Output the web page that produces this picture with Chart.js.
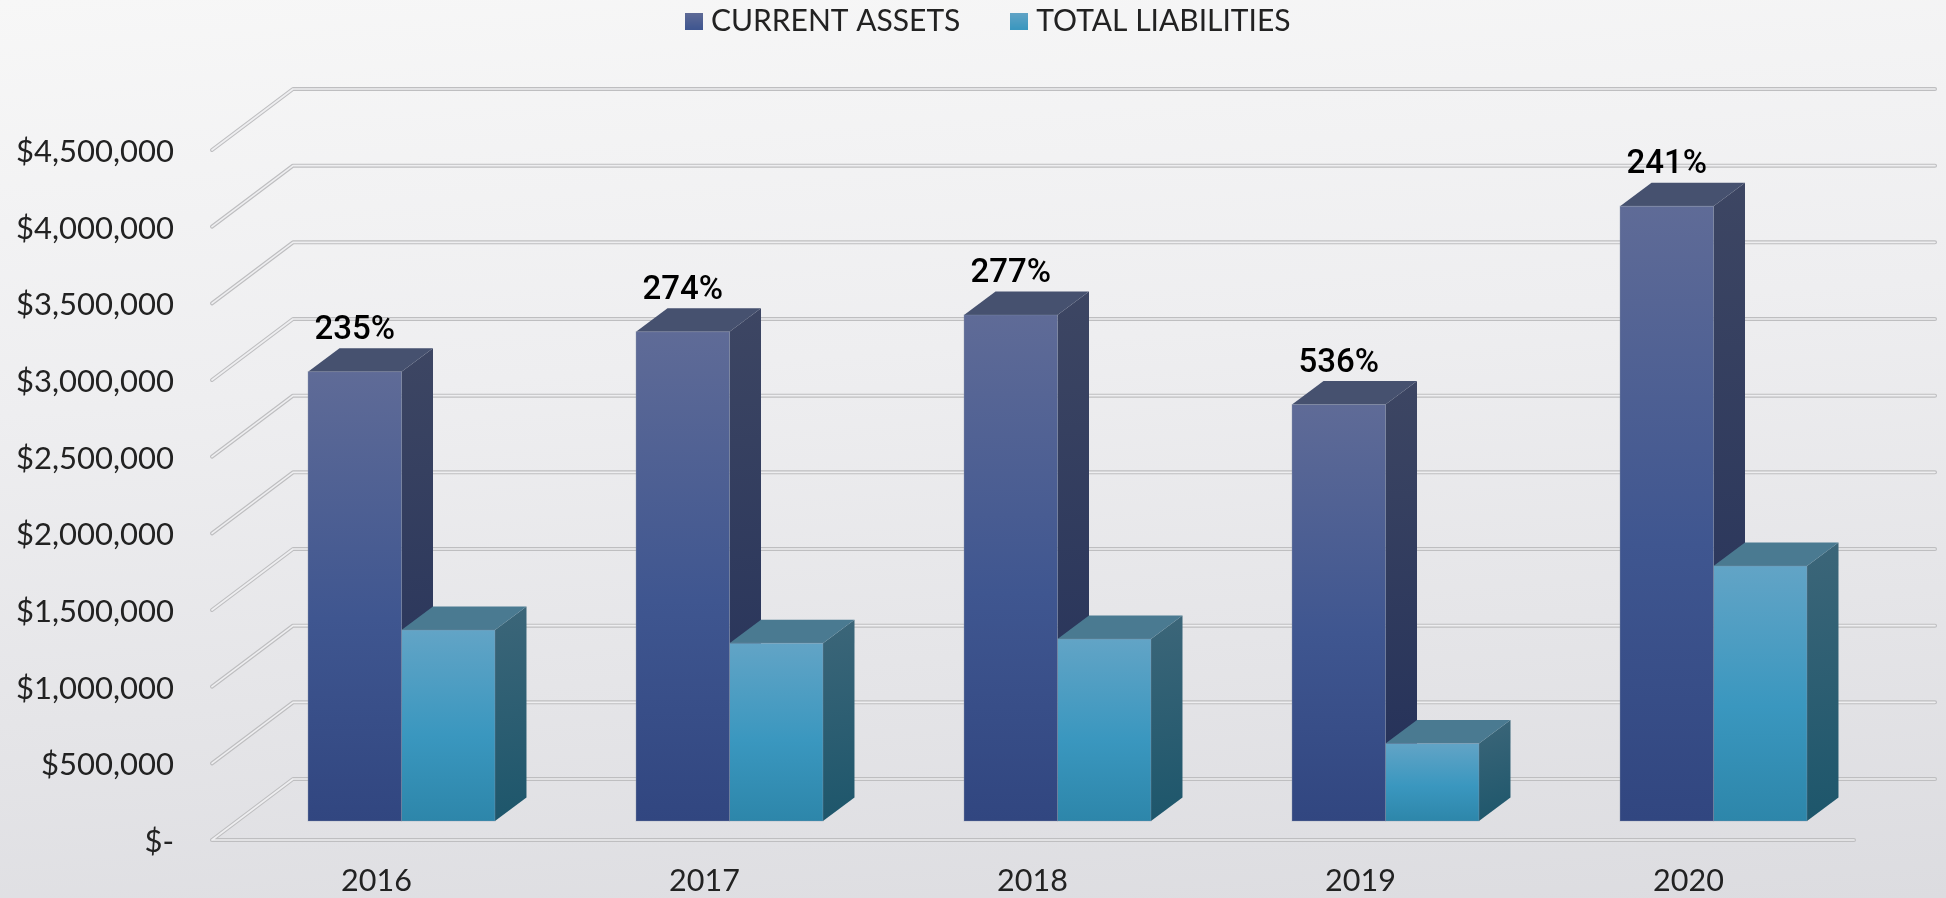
<!DOCTYPE html>
<html>
<head>
<meta charset="utf-8">
<style>
html,body{margin:0;padding:0;width:1946px;height:898px;overflow:hidden;background:linear-gradient(176deg,#f7f7f7 0%,#eeeef0 40%,#dcdce0 100%);}
canvas{display:block;}
</style>
<script src="https://cdn.jsdelivr.net/npm/chart.js@4/dist/chart.umd.min.js"></script>
</head>
<body>
<canvas id="c" width="1946" height="898"></canvas>
<script>
const categories = ['2016','2017','2018','2019','2020'];
const currentAssets = [2930000,3190000,3300000,2716000,4010000];
const totalLiabilities = [1245000,1160000,1187000,506000,1663000];
const ratioLabels = ['235%','274%','277%','536%','241%'];
const seriesNames = ['CURRENT ASSETS','TOTAL LIABILITIES'];

const TICK_FONT = 'Lato';
const TEXT_COLOR = '#222';
const DEPTH_BAR = {dx:31.5, dy:-23.5};   // bar depth
const DEPTH_WALL = {dx:81, dy:-61};      // floor depth
const FRONT_SHIFT = {dx:-25.5, dy:19};   // front floor edge vs. bar plane

const palette = [
  {front:['#5f6b97','#3f5690','#314680'], side:['#3d4663','#222f58'], top:'#46516f'},
  {front:['#62a4c6','#3a97bf','#2d86aa'], side:['#3c6679','#1d566b'], top:'#4a7a91'}
];

function frontGradient(ctx){
  const ch = ctx.chart, p = palette[ctx.datasetIndex];
  if(!ch.chartArea || ctx.raw === undefined) return p.front[1];
  const ys = ch.scales.y, t = ys.getPixelForValue(ctx.raw), b = ys.getPixelForValue(0);
  const g = ch.ctx.createLinearGradient(0,t,0,b);
  g.addColorStop(0,p.front[0]); g.addColorStop(0.55,p.front[1]); g.addColorStop(1,p.front[2]);
  return g;
}
function legendSwatch(i){
  const c = document.createElement('canvas'); c.width = 18; c.height = 17;
  const x = c.getContext('2d'), g = x.createLinearGradient(0,0,0,17);
  g.addColorStop(0,palette[i].front[0]); g.addColorStop(1,palette[i].front[1]);
  x.fillStyle = g; x.fillRect(0,0,18,17);
  return c;
}
const swatches = [legendSwatch(0),legendSwatch(1)];

const walls = {
  id:'walls',
  beforeDatasetsDraw(chart){
    const c = chart.ctx, a = chart.chartArea, ys = chart.scales.y;
    const x0 = a.left + FRONT_SHIFT.dx, xb = x0 + DEPTH_WALL.dx, xe = a.right + FRONT_SHIFT.dx + 2 + DEPTH_WALL.dx;
    c.save(); c.lineJoin='round'; c.lineCap='round';
    const stroke = fn => {
      [[4,'#bebec0'],[1.7,'#eeeef0']].forEach(([w,col]) => {
        c.lineWidth = w; c.strokeStyle = col; c.beginPath(); fn(); c.stroke();
      });
    };
    ys.ticks.forEach(t => {
      const y = ys.getPixelForValue(t.value) + FRONT_SHIFT.dy;
      stroke(() => {
        c.moveTo(x0,y); c.lineTo(xb,y+DEPTH_WALL.dy); c.lineTo(xe,y+DEPTH_WALL.dy);
        if(t.value === 0){ c.moveTo(x0,y); c.lineTo(a.right + FRONT_SHIFT.dx + 2,y); }
      });
    });
    c.restore();
    // bar depth faces: first series first, so the second one overlaps it
    [0,1].forEach(idx => {
      const p = palette[idx], {dx,dy} = DEPTH_BAR;
      chart.getDatasetMeta(idx).data.forEach(b => {
        const L = b.x - b.width/2, R = b.x + b.width/2, T = b.y, B = b.base;
        const g = c.createLinearGradient(R,T+dy,R+dx,B);
        g.addColorStop(0,p.side[0]); g.addColorStop(1,p.side[1]);
        c.fillStyle = g;
        c.beginPath(); c.moveTo(R,T); c.lineTo(R+dx,T+dy); c.lineTo(R+dx,B+dy); c.lineTo(R,B); c.closePath(); c.fill();
        c.fillStyle = p.top;
        c.beginPath(); c.moveTo(L,T); c.lineTo(L+dx,T+dy); c.lineTo(R+dx,T+dy); c.lineTo(R,T); c.closePath(); c.fill();
      });
    });
  }
};
const ratioText = {
  id:'ratioText',
  afterDatasetsDraw(chart){
    const c = chart.ctx;
    c.save();
    c.strokeStyle='rgba(135,145,165,.35)'; c.lineWidth=1;
    [0,1].forEach(idx => chart.getDatasetMeta(idx).data.forEach(b => {
      c.strokeRect(b.x-b.width/2, b.y, b.width, b.base-b.y);
    }));
    c.fillStyle='#000'; c.font='500 33px Roboto'; c.textAlign='center'; c.textBaseline='middle';
    chart.getDatasetMeta(0).data.forEach((b,i) => c.fillText(ratioLabels[i], b.x, b.y-41));
    c.restore();
  }
};
const legendLayout = {
  id:'legendLayout',
  beforeInit(chart){
    const f = chart.legend.fit;
    chart.legend.fit = function(){ f.call(this); this.height = 131; };
  },
  afterLayout(chart){
    const l = chart.legend;
    l.top -= 51; l.left += 52.5; l.right += 52.5;
  }
};

new Chart(document.getElementById('c'),{
  type:'bar',
  data:{
    labels:categories,
    datasets:[
      {label:seriesNames[0],data:currentAssets,backgroundColor:frontGradient,borderWidth:0},
      {label:seriesNames[1],data:totalLiabilities,backgroundColor:frontGradient,borderWidth:0}
    ]
  },
  plugins:[legendLayout,walls,ratioText],
  options:{
    responsive:false,
    animation:false,
    layout:{padding:{left:0,right:68.5,top:0,bottom:0}},
    datasets:{bar:{categoryPercentage:0.57,barPercentage:1}},
    plugins:{
      tooltip:{enabled:false},
      legend:{
        position:'top',
        labels:{
          usePointStyle:true,
          boxWidth:4,boxHeight:4,
          padding:57,
          color:TEXT_COLOR,
          font:{family:TICK_FONT,size:30,weight:'400'},
          generateLabels(chart){
            return Chart.defaults.plugins.legend.labels.generateLabels(chart).map((l,i)=>Object.assign(l,{pointStyle:swatches[i]}));
          }
        }
      }
    },
    scales:{
      x:{
        grid:{display:false,drawTicks:false},
        border:{display:false},
        afterFit(s){s.height=77;},
        ticks:{labelOffset:-25,padding:42,color:TEXT_COLOR,font:{family:TICK_FONT,size:30.5,weight:'400'},maxRotation:0}
      },
      y:{
        min:0,max:4500000,
        grid:{display:false,drawTicks:false},
        border:{display:false},
        afterFit(s){s.width=237.5;s.paddingTop=0;s.paddingBottom=0;},
        ticks:{
          stepSize:500000,labelOffset:21,padding:63.5,color:TEXT_COLOR,
          font:{family:TICK_FONT,size:31,weight:'400'},
          callback(v){return v===0?'$-':'$'+Number(v).toLocaleString('en-US');}
        }
      }
    }
  }
});
</script>
</body>
</html>
